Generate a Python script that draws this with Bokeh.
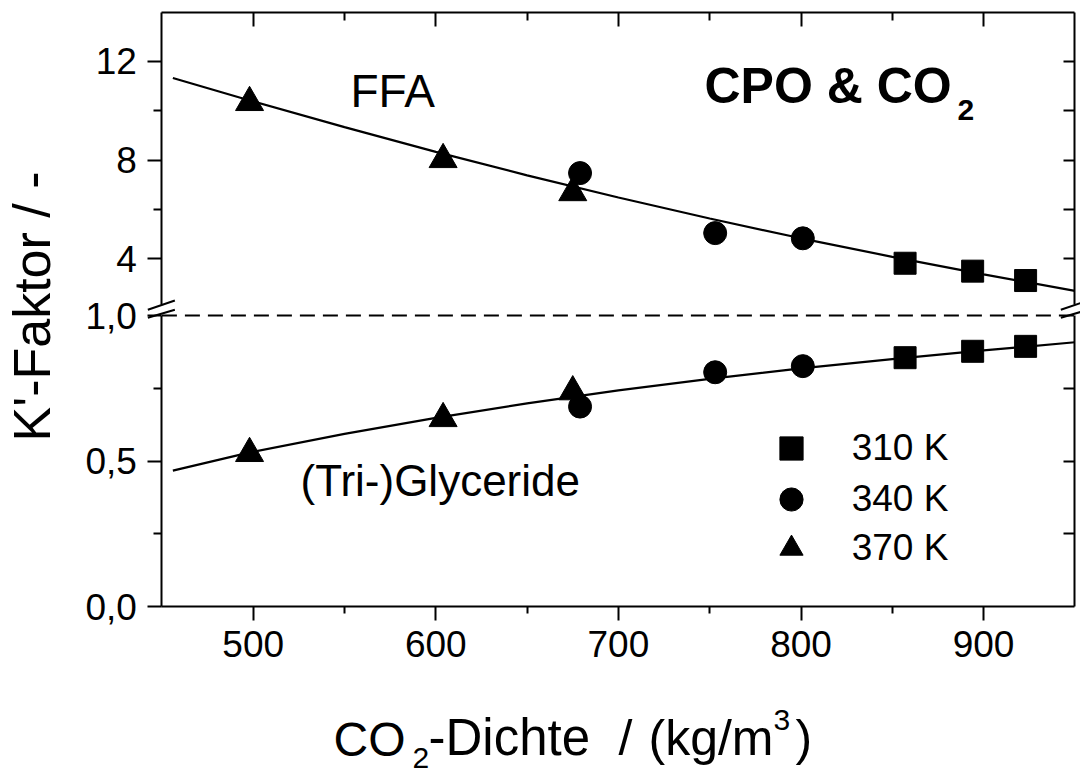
from bokeh.plotting import figure
from bokeh.models import (Range1d, LinearAxis, FixedTicker, Label, Arrow,
                          Legend, LegendItem, CustomJSTickFormatter)
from bokeh.embed import file_html
from bokeh.resources import INLINE

# ---------------- data ----------------
dens_310 = [857, 894, 923]
ffa_310 = [3.82, 3.50, 3.12]
gly_310 = [0.855, 0.877, 0.894]

dens_340 = [679, 753, 801]
ffa_340 = [7.47, 5.04, 4.83]
gly_340 = [0.687, 0.805, 0.826]

dens_370 = [498, 604, 675]
ffa_370 = [10.33, 8.02, 6.68]
gly_370 = [0.526, 0.646, 0.738]

fit_dens = [456, 500, 550, 600, 650, 700, 750, 800, 850, 900, 950]
ffa_fit = [11.32, 10.37, 9.33, 8.33, 7.38, 6.48, 5.63, 4.83, 4.08, 3.37, 2.70]
gly_fit = [0.467, 0.532, 0.593, 0.648, 0.698, 0.743, 0.782, 0.818, 0.850, 0.880, 0.908]

x_ticks = [500, 600, 700, 800, 900]
x_minor = [550, 650, 750, 850]
up_ticks = [4, 8, 12]
up_minor = [6, 10]
up_right_ticks = [4, 6, 8, 10, 12]
low_ticks = [0.0, 0.5, 1.0]
low_minor = [0.25, 0.75]
low_right_ticks = [0.25, 0.5, 0.75]
legend_labels = ["310 K", "340 K", "370 K"]

# ---------------- layout constants ----------------
FONT = "Liberation Sans"
W, H = 1080, 774
X_LO, X_HI = 450, 950          # plotted density interval
X_PX = 1.826                    # px per kg/m3
X_LEFT_PX = 161.4               # pixel column of X_LO
LOW_PX, LOW_ZERO_PX = 291.0, 606.0      # lower panel: px/unit, pixel row of 0
UP_PX, UP_12_PX = 24.7, 60.7            # upper panel: px/unit, pixel row of 12
FRAME_TOP_PX = 12.0
BASELINE_FIX = 0.405            # label baseline correction (fraction of font size)

x_start = X_LO - X_LEFT_PX / X_PX
x_end = x_start + W / X_PX
low_start = -(H - LOW_ZERO_PX) / LOW_PX
low_end = LOW_ZERO_PX / LOW_PX
up_end = 12 + UP_12_PX / UP_PX
up_start = up_end - H / UP_PX
LOW_FRAME_TOP = (LOW_ZERO_PX - FRAME_TOP_PX) / LOW_PX
UP_FRAME_TOP = 12 + (UP_12_PX - FRAME_TOP_PX) / UP_PX

p = figure(width=W, height=H, output_backend="svg", toolbar_location=None,
           x_range=Range1d(x_start, x_end), y_range=Range1d(low_start, low_end),
           x_axis_location=None, y_axis_location=None, min_border=0)
p.extra_y_ranges = {"upper": Range1d(up_start, up_end)}
p.grid.visible = False
p.outline_line_color = None
p.background_fill_color = "white"
p.border_fill_color = "white"

blank = CustomJSTickFormatter(code="return '';")
comma = CustomJSTickFormatter(code="return tick.toFixed(1).replace('.', ',');")


def style(ax, tin, tout, min_in, min_out, standoff=11):
    ax.axis_line_width = 2
    ax.axis_line_color = "black"
    ax.major_tick_line_width = 2
    ax.minor_tick_line_width = 2
    ax.major_tick_line_color = "black"
    ax.minor_tick_line_color = "black"
    ax.major_tick_in = tin
    ax.major_tick_out = tout
    ax.minor_tick_in = min_in
    ax.minor_tick_out = min_out
    ax.major_label_text_font = FONT
    ax.major_label_text_font_size = "37px"
    ax.major_label_text_color = "black"
    ax.major_label_standoff = standoff


# bottom axis
xb = LinearAxis(ticker=FixedTicker(ticks=x_ticks, minor_ticks=x_minor),
                bounds=(X_LO, X_HI), fixed_location=0)
style(xb, 0, 14, 0, 7, standoff=10)
p.add_layout(xb, "below")

# top axis
xt = LinearAxis(ticker=FixedTicker(ticks=x_ticks, minor_ticks=x_minor), formatter=blank,
                bounds=(X_LO, X_HI), fixed_location=LOW_FRAME_TOP)
style(xt, 14, 0, 8, 0, standoff=0)
p.add_layout(xt, "above")

# left axes
yl_low = LinearAxis(ticker=FixedTicker(ticks=low_ticks, minor_ticks=low_minor),
                    formatter=comma, bounds=(0, 1.0), fixed_location=X_LO)
style(yl_low, 0, 14, 0, 8)
p.add_layout(yl_low, "left")

yl_up = LinearAxis(y_range_name="upper", ticker=FixedTicker(ticks=up_ticks, minor_ticks=up_minor),
                   bounds=(2.15, UP_FRAME_TOP), fixed_location=X_LO)
style(yl_up, 0, 14, 0, 8)
p.add_layout(yl_up, "left")

# right axes
yr_low = LinearAxis(ticker=FixedTicker(ticks=low_right_ticks), formatter=blank,
                    bounds=(0, 1.0), fixed_location=X_HI)
style(yr_low, 11, 0, 0, 0, standoff=0)
p.add_layout(yr_low, "right")

yr_up = LinearAxis(y_range_name="upper", ticker=FixedTicker(ticks=up_right_ticks), formatter=blank,
                   bounds=(2.15, UP_FRAME_TOP), fixed_location=X_HI)
style(yr_up, 11, 0, 0, 0, standoff=0)
p.add_layout(yr_up, "right")

# dashed line at 1.0 (panel boundary)
p.segment(x0=[X_LO], y0=[1.0], x1=[X_HI], y1=[1.0], line_color="black",
          line_width=2, line_dash="15 8")

# axis break marks
for x0 in (X_LO - 7.7, X_HI - 7.7):
    for (ya, yb) in ((0.992, 1.0196), (1.0196, 1.0515)):
        p.add_layout(Arrow(x_start=x0, y_start=ya, x_end=x0 + 14.8, y_end=yb,
                           start=None, end=None, line_width=2, line_color="black"))

# fitted curves
p.line(fit_dens, ffa_fit, y_range_name="upper", line_color="black", line_width=2.2)
p.line(fit_dens, gly_fit, line_color="black", line_width=2.2)

# markers
r_sq = p.scatter(dens_310, ffa_310, y_range_name="upper", marker="square", size=22, color="black")
p.scatter(dens_310, gly_310, marker="square", size=22, color="black")
r_ci = p.scatter(dens_340, ffa_340, y_range_name="upper", marker="circle", size=23, color="black")
p.scatter(dens_340, gly_340, marker="circle", size=23, color="black")
r_tr = p.scatter(dens_370, ffa_370, y_range_name="upper", marker="triangle", size=28, color="black")
p.scatter(dens_370, gly_370, marker="triangle", size=28, color="black")

# legend: one entry per block so that row pitch and symbol size both match
legend_rows_px = [448.3, 499.0, 548.3]      # pixel rows of the legend symbols
LEG_GLYPH = 58
for lab_text, rend, row in zip(legend_labels, [r_sq, r_ci, r_tr], legend_rows_px):
    lg = Legend(items=[LegendItem(label=lab_text, renderers=[rend])],
                location=(790.7 - LEG_GLYPH / 2, H - (row + LEG_GLYPH / 2)),
                glyph_width=LEG_GLYPH, glyph_height=LEG_GLYPH,
                label_standoff=32, label_text_font=FONT, label_text_font_size="37px",
                label_text_color="black", background_fill_alpha=0, border_line_color=None,
                padding=0, margin=0)
    p.add_layout(lg)


def px_to_x(px):
    return X_LO + (px - X_LEFT_PX) / X_PX


def label(px, py, text, size, rng="default", bold=False, rotated=False, **kw):
    """Place a text with its baseline at pixel (px, py)."""
    shift = BASELINE_FIX * size
    if rotated:
        px = px - shift
    else:
        py = py - shift
    if rng == "upper":
        y = 12 - (py - UP_12_PX) / UP_PX
    else:
        y = (LOW_ZERO_PX - py) / LOW_PX
    p.add_layout(Label(x=px_to_x(px), y=y, y_range_name=rng, text=text, text_font=FONT,
                       text_font_size=f"{size}px", text_color="black",
                       text_font_style="bold" if bold else "normal",
                       text_baseline="alphabetic",
                       angle=1.5707963 if rotated else 0, **kw))


# in-plot labels
label(350, 109.3, "FFA", 46, rng="upper")
label(300, 498, "(Tri-)Glyceride", 44)
label(704, 106, "CPO & CO", 50, rng="upper", bold=True)
label(957, 121.7, "2", 30, rng="upper", bold=True)

# x axis title
label(333, 758, "CO", 48)
label(412, 770, "2", 30)
label(428, 758, "-Dichte", 51)
label(618, 758, "/", 50)
label(648, 758, "(kg/m", 50)
label(773, 731.7, "3", 30)
label(795, 758, ")", 50)

# y axis title
label(53, 306, "K'-Faktor / -", 52, rotated=True, text_align="center")

open("out.html", "w").write(file_html(p, INLINE))
